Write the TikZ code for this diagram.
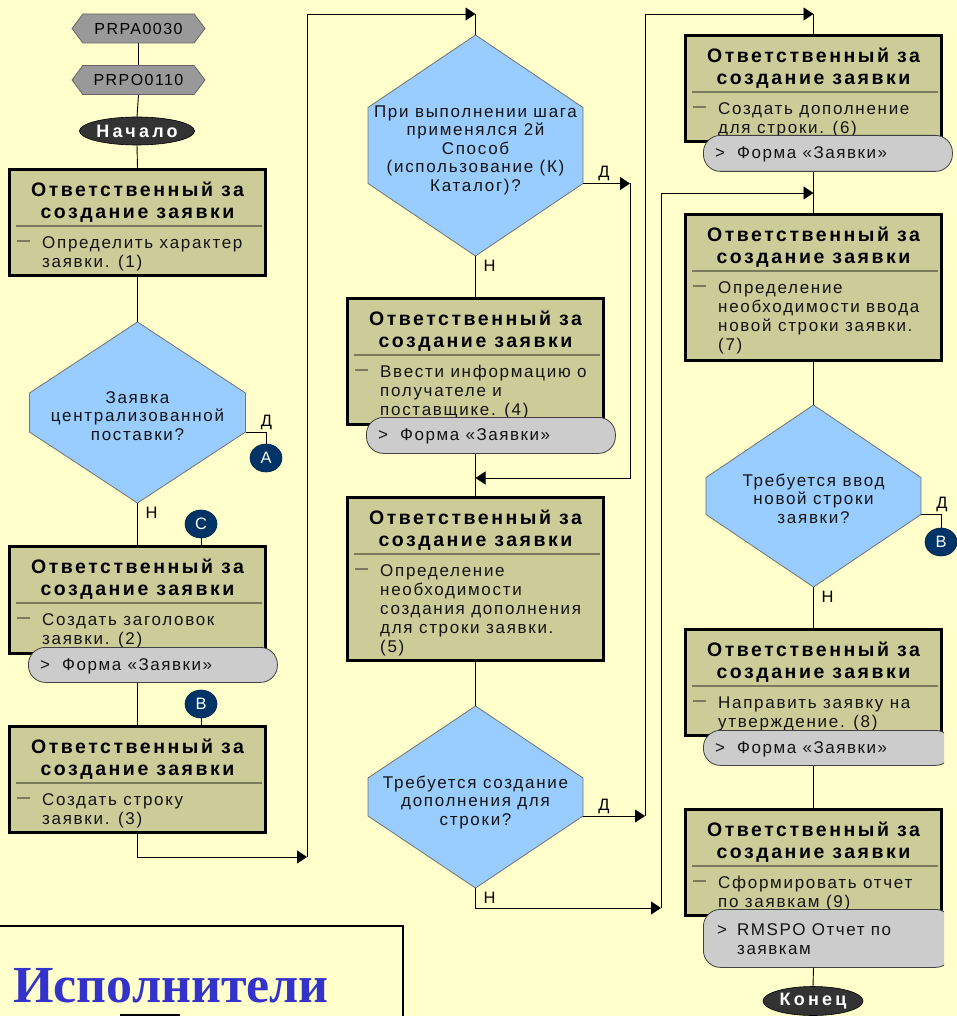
\documentclass[tikz,border=0pt]{standalone}
\usepackage{fontspec}
\setmainfont{Liberation Sans}
\newfontfamily\headfont[LetterSpace=13]{Liberation Sans}
\newfontfamily\bodyfont[LetterSpace=10]{Liberation Sans}
\newfontfamily\formfont[LetterSpace=9]{Liberation Sans}
\newfontfamily\codefont[LetterSpace=9]{Liberation Sans}
\newfontfamily\termfont[LetterSpace=18]{Liberation Sans}
\newfontfamily\bannerfont{Liberation Serif}
\usetikzlibrary{arrows.meta,calc,shapes.geometric,shapes.symbols}

\definecolor{paper}{HTML}{FFFFCC}
\definecolor{khaki}{HTML}{CCCC99}
\definecolor{decblue}{HTML}{99CCFF}
\definecolor{formgray}{HTML}{CCCCCC}
\definecolor{navy}{HTML}{003366}
\definecolor{termdark}{HTML}{333333}
\definecolor{refgray}{HTML}{999999}
\definecolor{banner}{HTML}{3333CC}
\definecolor{sepcol}{HTML}{7A7A5C}

% zero-width strut fixing the height of a first text line
\newcommand\topstrut{\rule{0pt}{13pt}}

% process step: name, x centre, top, height, body text
\newcommand\taskstep[5]{%
  \node[taskbox, minimum height={#4pt-2.6pt}, anchor=north] (#1) at (#2,#3) {};
  \node[headtext, anchor=north] (#1-head) at ($(#1.north)+(0,14)$)
       {\topstrut Ответственный за\\создание заявки};
  \draw[sepline] ($(#1.north west)+(8,58)$) -- ($(#1.north east)+(-5,58)$);
  \draw[sepline] ($(#1.north west)+(9,73)$) -- ($(#1.north west)+(22,73)$);
  \node[bodytext, anchor=north west] (#1-body) at ($(#1.north west)+(34,67)$) {\topstrut #5};
}

% document tag: name, left, top, width, height, text
\newcommand\formtag[6]{%
  \node[formtag, minimum width=#4pt, minimum height=#5pt, anchor=north west] (#1) at (#2,#3) {};
  \node[formtext, anchor=base west] (#1-mark) at ($(#1.west)+(12,5.5)$) {>};
  \node[formtext, anchor=base west] (#1-text) at ($(#1.west)+(34,5.5)$) {#6};
}

% decision: name, x centre, top, height, half gap of the side edges, width
\newcommand\decision[6]{%
  \node[rectangle, minimum width=#6pt, minimum height=#4pt, inner sep=0pt, outer sep=0pt, anchor=north] (#1) at (#2,#3) {};
  \filldraw[decshape] (#1.north) -- ($(#1.west)+(0,-#5)$) -- ($(#1.west)+(0,#5)$) -- (#1.south)
        -- ($(#1.east)+(0,#5)$) -- ($(#1.east)+(0,-#5)$) -- cycle;
  \coordinate (#1-yes) at ($(#1.east)+(0,#5)$);
}

\begin{document}
\begin{tikzpicture}[x=1pt, y=-1pt,
  wire/.style={draw=black, line width=0.9pt},
  arr/.style={wire, -{Triangle[length=10pt,width=13pt]}},
  taskbox/.style={rectangle, draw=black, fill=khaki, line width=2.6pt, minimum width=256.4pt, inner sep=0pt},
  headtext/.style={font=\headfont\bfseries\fontsize{19.5}{22}\selectfont, align=center, inner sep=0pt},
  bodytext/.style={font=\bodyfont\fontsize{17}{19}\selectfont, align=left, inner sep=0pt, text=black!92},
  sepline/.style={draw=sepcol, line width=1.2pt},
  formtag/.style={rectangle, rounded corners=17pt, draw=black!75, fill=formgray, line width=0.8pt, inner sep=0pt},
  formtext/.style={font=\formfont\fontsize{17}{19}\selectfont, inner sep=0pt, align=left, text=black!92},
  decshape/.style={draw=black!55, fill=decblue, line width=0.8pt},
  dectext/.style={font=\bodyfont\fontsize{17}{18.5}\selectfont, align=center, inner sep=0pt, text=black!92},
  answer/.style={font=\fontsize{16.5}{16.5}\selectfont, inner sep=0pt},
  linkdot/.style={ellipse, fill=navy, draw=navy!70!black, line width=0.6pt, minimum width=32pt, minimum height=28pt,
                  inner sep=0pt, text=white, font=\fontsize{16.5}{16.5}\selectfont},
  terminal/.style={ellipse, fill=termdark, draw=black, line width=0.6pt, minimum width=97pt, minimum height=28pt,
                   inner sep=0pt, text=white, font=\termfont\bfseries\fontsize{18}{18}\selectfont},
  refpoint/.style={signal, signal to=west and east, signal pointer angle=106, fill=refgray, draw=black!60,
                   line width=0.8pt, minimum width=133pt, minimum height=29pt, inner sep=0pt,
                   font=\codefont\fontsize{16}{16}\selectfont},
]
\fill[paper] (0,0) rectangle (957,1016);
\useasboundingbox (0,0) rectangle (957,1016);

% ---------------- first column ----------------
\node[refpoint] (h1) at (138.5,28.5) {PRPA0030};
\node[refpoint] (h2) at (138.5,80) {PRPO0110};
\node[terminal] (start) at (137,131) {Начало};

\taskstep{b1}{137.5}{168}{109}{Определить характер\\заявки. (1)}
\decision{d1}{137.5}{322}{181}{19.5}{216}
\node[dectext, anchor=north] (d1-q) at (137.5,390) {\topstrut Заявка\\централизованной\\поставки?};
\node[linkdot] (cA) at (266,458) {A};

\node[linkdot] (cC) at (201,524) {C};
\taskstep{b2}{137.5}{545}{110}{Создать заголовок\\заявки. (2)}
\formtag{f2}{28}{647}{249}{35}{Форма «Заявки»}

\node[linkdot] (cB) at (201,704) {B};
\taskstep{b3}{137.5}{725}{109}{Создать строку\\заявки. (3)}

% ---------------- second column ----------------
\decision{d2}{475.5}{35}{221}{38}{215}
\node[dectext, anchor=north] (d2-q) at (475.5,104)
     {\topstrut При выполнении шага\\применялся 2й\\Способ\\(использование (К)\\Каталог)?};
\taskstep{b4}{475.5}{297}{129}{Ввести информацию о\\получателе и\\поставщике. (4)}
\formtag{f4}{366}{417}{249}{36}{Форма «Заявки»}
\taskstep{b5}{475.5}{496}{166}{Определение\\необходимости\\создания дополнения\\для строки заявки.\\(5)}
\decision{d3}{475.5}{706}{182}{19}{215}
\node[dectext, anchor=north] (d3-q) at (475.5,775) {\topstrut Требуется создание\\дополнения для\\строки?};

% ---------------- third column ----------------
\taskstep{b6}{813.5}{34}{109}{Создать дополнение\\для строки. (6)}
\formtag{f6}{703}{135}{249}{36}{Форма «Заявки»}
\taskstep{b7}{813.5}{213}{149}{Определение\\необходимости ввода\\новой строки заявки.\\(7)}
\decision{d4}{813.5}{405}{182}{18.5}{215}
\node[dectext, anchor=north] (d4-q) at (813.5,473) {\topstrut Требуется ввод\\новой строки\\заявки?};
\node[linkdot] (cB2) at (941,542) {B};
\taskstep{b8}{813.5}{628}{109}{Направить заявку на\\утверждение. (8)}
\taskstep{b9}{813.5}{808}{109}{Сформировать отчет\\по заявкам (9)}
\begin{scope}
  \clip (0,0) rectangle (944,1016);
  \formtag{f8}{703}{730}{249}{35}{Форма «Заявки»}
  \node[formtag, minimum width=249pt, minimum height=58pt, anchor=north west] (f9) at (703,909) {};
  \node[formtext, anchor=base west] (f9-mark) at (717,935) {>};
  \node[formtext, anchor=north west] (f9-text) at (737,922) {\topstrut RMSPO Отчет по\\заявкам};
\end{scope}
\node[terminal, minimum width=100pt, minimum height=29pt] (stop) at (813,1001) {Конец};

% ---------------- junction points ----------------
\coordinate (j1) at (307,857);
\coordinate (j2) at (475.5,14);
\coordinate (j3) at ($(d2-yes)+(47,0)$);
\coordinate (j4) at (475.5,478);
\coordinate (j5) at ($(d3-yes)+(62,0)$);
\coordinate (j6) at (813.5,14);
\coordinate (j7) at (661,908);
\coordinate (j8) at (813.5,193);

% ---------------- connectors ----------------
\draw[wire] (h1.south) -- (h2.north);
\draw[wire] (h2.south) -- (start.north);
\draw[wire] (start.south) -- (b1.north);
\draw[wire] (b1.south) -- (d1.north);
\draw[wire] (d1-yes) -| (cA.north);
\draw[wire] (d1.south) -- (b2.north);
\draw[wire] (cC.south) -- (cC.south |- b2.north);
\draw[wire] (b3.north |- f2.south) -- (b3.north);
\draw[wire] (cB.south) -- (cB.south |- b3.north);
\draw[arr] (b3.south) |- (j1);
\draw[arr] (j1) |- (j2);
\draw[wire] (j2) -- (d2.north);

\draw[arr] (d2-yes) -- (j3);
\draw[arr] (j3) |- (j4);
\draw[wire] (d2.south) -- (b4.north);
\draw[wire] (b4.south |- f4.south) -- (b5.north);
\draw[wire] (b5.south) -- (d3.north);
\draw[arr] (d3-yes) -- (j5);
\draw[arr] (j5) |- (j6);
\draw[wire] (j6) -- (b6.north);
\draw[arr] (d3.south) |- (j7);
\draw[arr] (j7) |- (j8);

\draw[wire] (b6.south |- f6.south) -- (b7.north);
\draw[wire] (b7.south) -- (d4.north);
\draw[wire] (d4-yes) -| (cB2.north);
\draw[wire] (d4.south) -- (b8.north);
\draw[wire] (b8.south |- f8.south) -- (b9.north);
\draw[wire] (b9.south |- f9.south) -- (stop.north);

% ---------------- answer labels ----------------
\node[answer] (d1-y) at ($(d1-yes)+(21,-10)$) {Д};
\node[answer] (d1-n) at ($(d1.south)+(14,10)$) {Н};
\node[answer] (d2-y) at ($(d2-yes)+(21,-10)$) {Д};
\node[answer] (d2-n) at ($(d2.south)+(14,10)$) {Н};
\node[answer] (d3-y) at ($(d3-yes)+(21,-10)$) {Д};
\node[answer] (d3-n) at ($(d3.south)+(14,10)$) {Н};
\node[answer] (d4-y) at ($(d4-yes)+(21,-10)$) {Д};
\node[answer] (d4-n) at ($(d4.south)+(14,10)$) {Н};

% ---------------- performers panel ----------------
\node[rectangle, draw=black, line width=2pt, minimum width=420pt, minimum height=120pt, inner sep=0pt,
      anchor=north east] (cast) at (404,925) {};
\node[font=\bannerfont\bfseries\fontsize{52}{52}\selectfont, text=banner, inner sep=0pt, anchor=base west]
     (cast-title) at (13,1002) {Исполнители};
\node[rectangle, draw=black, line width=2pt, minimum width=58pt, minimum height=30pt, inner sep=0pt,
      anchor=north west] (cast-role) at (120,1014) {};
\end{tikzpicture}
\end{document}
